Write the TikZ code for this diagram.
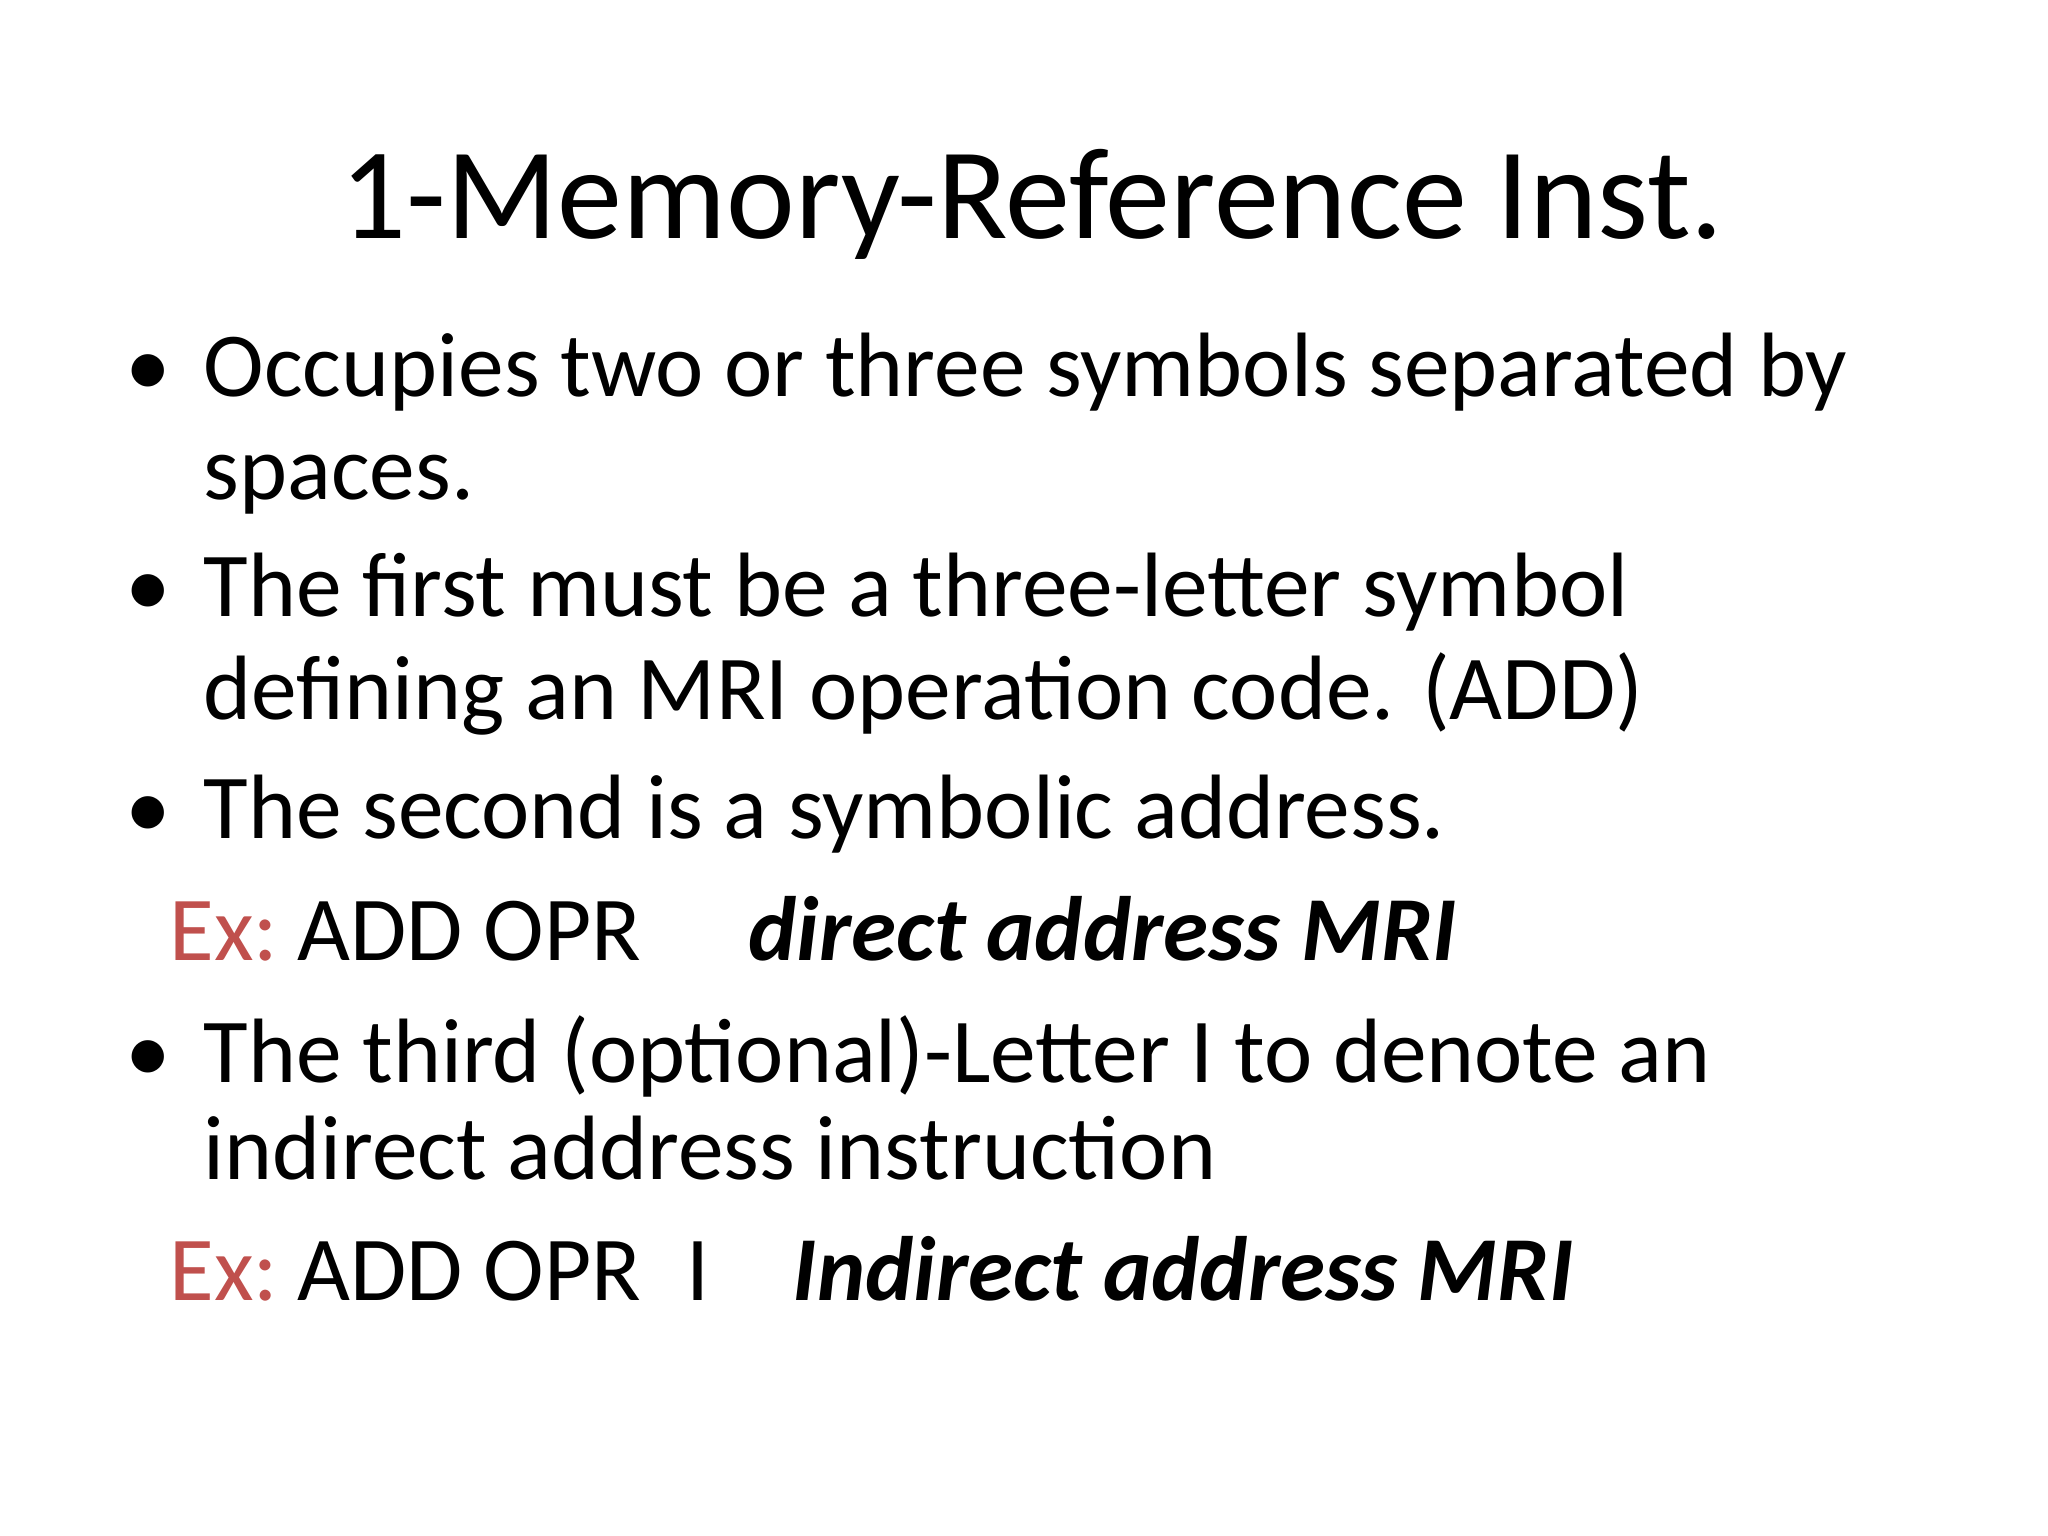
\documentclass[tikz,border=0pt]{standalone}
\usepackage{fontspec}
\setmainfont{Carlito}
\definecolor{exred}{RGB}{192,80,77}
\begin{document}
\begin{tikzpicture}[x=0.01cm,y=-0.01cm,
  body/.style={anchor=base west,inner sep=0pt,font=\fontsize{26}{30}\selectfont},
  bul/.style={anchor=base west,inner sep=0pt,font=\fontsize{26}{30}\selectfont}]
\useasboundingbox (0,0) rectangle (2048,1536);
\node[anchor=base,inner sep=0pt,font=\fontsize{37}{42}\selectfont] (title) at (1032,238) {1-Memory-Reference Inst.};
\node[bul] (b1) at (125,396) {•};
\node[body] (t1) at (203,396) {Occupies two or three symbols separated by};
\node[body] (t1b) at (203,499) {spaces.};
\node[bul] (b2) at (125,616) {•};
\node[body] (t2) at (203,616) {The first must be a three-letter symbol};
\node[body] (t2b) at (203,719) {defining an MRI operation code. (ADD)};
\node[bul] (b3) at (125,838) {•};
\node[body] (t3) at (203,838) {The second is a symbolic address.};
\node[body,text=exred] (ex1) at (169,960) {Ex:};
\node[body] (ex1a) at (297,960) {ADD OPR};
\node[body,font=\fontsize{26}{30}\selectfont\bfseries\itshape] (ex1b) at (748,960) {direct address MRI};
\node[bul] (b4) at (125,1082) {•};
\node[body] (t4) at (203,1082) {The third (optional)-Letter I to denote an};
\node[body] (t4b) at (203,1179) {indirect address instruction};
\node[body,text=exred] (ex2) at (169,1300) {Ex:};
\node[body] (ex2a) at (297,1300) {ADD OPR};
\node[body] (ex2i) at (686,1300) {I};
\node[body,font=\fontsize{26}{30}\selectfont\bfseries\itshape] (ex2b) at (792,1300) {Indirect address MRI};
\end{tikzpicture}
\end{document}
